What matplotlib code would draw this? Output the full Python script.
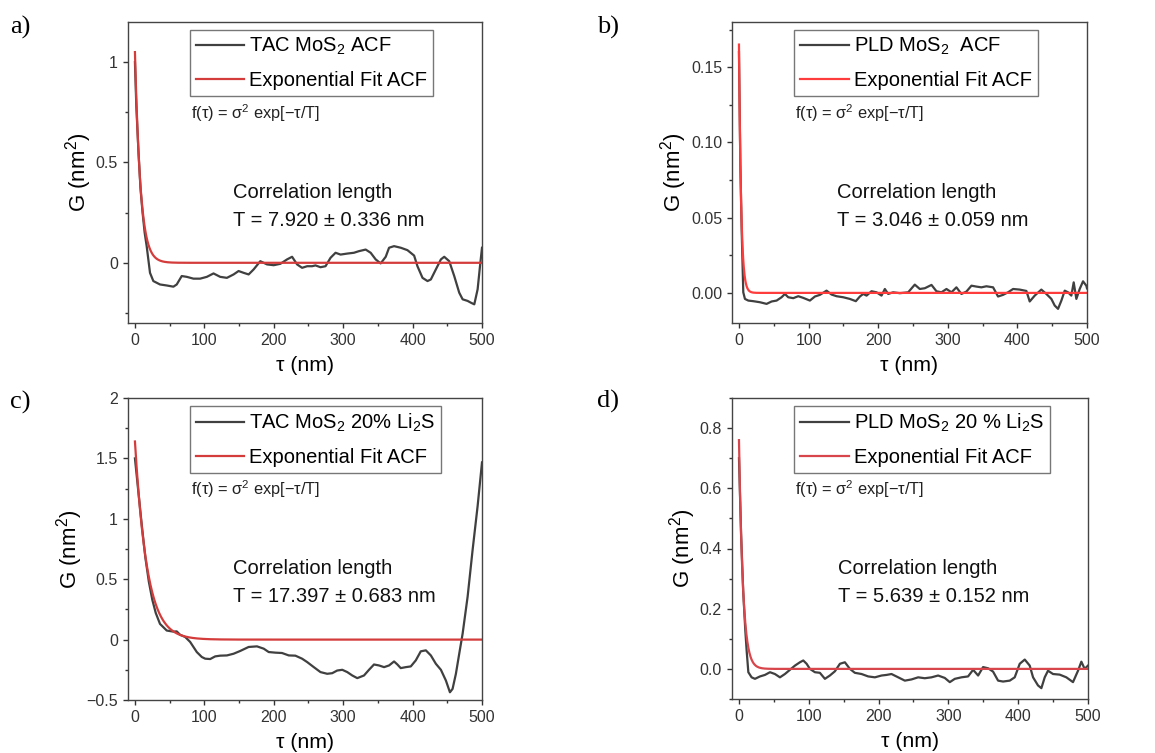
import numpy as np
import matplotlib
matplotlib.use("Agg")
import matplotlib.pyplot as plt
from matplotlib.ticker import MultipleLocator, FixedLocator, FixedFormatter

plt.rcParams["font.family"] = ["Liberation Sans", "DejaVu Sans"]
plt.rcParams["mathtext.fontset"] = "custom"
plt.rcParams["mathtext.rm"] = "Liberation Sans"
plt.rcParams["mathtext.it"] = "Liberation Sans:italic"
plt.rcParams["mathtext.bf"] = "Liberation Sans:bold"

# ---- data (tau in nm, G in nm^2) ----
tau_a = [0, 2, 5, 8, 11, 14, 16.9, 21.7, 26.5, 36.1, 45.8, 55.4, 60.2, 67.4, 74.7, 84.3, 93.9,
         103.6, 113.2, 122.8, 132.5, 142.1, 149.3, 156.6, 163.8, 171.0, 180.6, 190.3, 199.9,
         209.5, 219.2, 226.4, 233.6, 240.8, 248.1, 255.3, 260.1, 267.3, 274.6, 281.8, 289.0,
         296.2, 305.9, 315.5, 322.7, 332.4, 339.6, 346.8, 354.0, 361.3, 366.1, 373.3, 383.0,
         392.6, 402.2, 407.0, 414.3, 421.5, 426.3, 433.5, 440.8, 445.6, 452.8, 460.0, 467.2,
         472.1, 479.3, 484.1, 488.9, 493.7, 497.1, 500.0]
g_a = [1.0, 0.78, 0.56, 0.37, 0.25, 0.15, 0.083, -0.050, -0.091, -0.108, -0.113, -0.119, -0.108,
       -0.066, -0.070, -0.079, -0.079, -0.070, -0.053, -0.070, -0.075, -0.058, -0.041, -0.050,
       -0.058, -0.033, 0.008, -0.008, -0.012, -0.005, 0.017, 0.030, -0.008, -0.025, -0.017,
       -0.017, -0.013, -0.022, -0.017, 0.025, 0.050, 0.041, 0.046, 0.050, 0.058, 0.066, 0.050,
       0.017, -0.003, 0.030, 0.075, 0.083, 0.075, 0.063, 0.036, -0.017, -0.075, -0.091, -0.083,
       -0.033, 0.017, 0.030, 0.008, -0.066, -0.149, -0.182, -0.190, -0.199, -0.207, -0.132,
       -0.017, 0.075]

tau_b = [0, 2, 4, 6.2, 8.6, 13.4, 20.6, 30.1, 39.7, 46.9, 54.1, 61.2, 66.0, 70.8, 78.0, 85.2,
         92.3, 101.9, 109.1, 116.3, 125.8, 133.0, 140.2, 149.8, 159.3, 167.9, 173.7, 178.5,
         183.3, 190.4, 197.6, 204.8, 209.6, 214.4, 221.5, 231.1, 243.1, 252.6, 259.8, 267.0,
         276.6, 283.7, 290.9, 298.1, 305.3, 312.4, 319.6, 326.8, 334.0, 341.1, 348.3, 355.5,
         365.1, 372.2, 379.4, 386.6, 393.8, 403.3, 412.9, 417.7, 424.9, 434.4, 441.6, 448.8,
         453.6, 458.4, 463.2, 468.0, 472.7, 477.5, 480.9, 484.7, 489.5, 494.3, 499.0, 500.0]
g_b = [0.160, 0.085, 0.040, 0.0004, -0.0040, -0.0051, -0.0055, -0.0062, -0.0073, -0.0057,
       -0.0051, -0.0029, -0.0007, -0.0029, -0.0035, -0.0022, -0.0033, -0.0051, -0.0024,
       -0.0013, 0.0015, -0.0011, -0.0022, -0.0029, -0.0040, -0.0055, -0.0024, -0.0007,
       -0.0018, 0.0011, 0.0004, -0.0018, 0.0026, -0.0007, 0.0004, -0.0002, 0.0004, 0.0055,
       0.0026, 0.0031, 0.0053, 0.0011, 0.0004, 0.0026, 0.0004, 0.0037, -0.0007, 0.0009,
       0.0048, 0.0042, 0.0037, 0.0044, 0.0037, -0.0024, -0.0013, 0.0004, 0.0026, 0.0022,
       0.0013, -0.0057, -0.0018, 0.0022, -0.0007, -0.0040, -0.0084, -0.0106, -0.0051, 0.0015,
       0.0004, -0.0018, 0.0070, -0.0040, 0.0026, 0.0077, 0.0048, 0.0030]

tau_c = [0, 5, 10, 15, 20, 25, 30, 36.1, 45.8, 55.4, 60.2, 65.0, 72.3, 79.5, 89.1, 96.3, 101.2,
         108.4, 115.6, 122.8, 132.5, 142.1, 151.7, 163.8, 175.8, 185.5, 192.7, 202.3, 211.9,
         221.6, 231.2, 240.8, 248.1, 257.7, 267.3, 277.0, 284.2, 291.4, 298.7, 305.9, 313.1,
         320.3, 330.0, 337.2, 344.4, 351.6, 358.9, 366.1, 373.3, 378.1, 382.9, 390.2, 397.4,
         404.6, 411.8, 419.1, 426.3, 433.5, 440.8, 448.0, 453.8, 457.6, 462.4, 467.2, 472.1,
         479.3, 486.5, 493.7, 500.0]
g_c = [1.50, 1.22, 0.94, 0.68, 0.48, 0.33, 0.22, 0.13, 0.075, 0.066, 0.068, 0.040, 0.022,
       -0.019, -0.103, -0.144, -0.158, -0.161, -0.139, -0.133, -0.131, -0.117, -0.094, -0.061,
       -0.056, -0.075, -0.103, -0.108, -0.111, -0.131, -0.133, -0.158, -0.186, -0.228, -0.269,
       -0.283, -0.278, -0.256, -0.250, -0.269, -0.297, -0.319, -0.297, -0.250, -0.206, -0.214,
       -0.228, -0.214, -0.181, -0.206, -0.236, -0.228, -0.222, -0.172, -0.097, -0.089, -0.131,
       -0.200, -0.250, -0.339, -0.436, -0.408, -0.283, -0.117, 0.050, 0.356, 0.744, 1.106,
       1.467]

tau_d = [0, 3, 6, 9, 11, 13.4, 18.1, 22.9, 30.1, 37.2, 44.4, 51.5, 58.7, 65.8, 73.0, 80.2, 87.3,
         92.1, 96.9, 101.6, 108.8, 115.9, 123.1, 130.2, 137.4, 144.6, 151.7, 158.9, 166.0, 175.6,
         185.1, 194.7, 204.2, 211.4, 218.5, 228.1, 237.6, 247.1, 256.7, 266.2, 275.8, 285.3,
         294.8, 302.0, 309.2, 318.7, 328.2, 335.4, 342.6, 349.7, 356.9, 364.0, 371.2, 378.3,
         387.9, 395.0, 402.2, 409.4, 416.5, 421.3, 428.4, 433.2, 438.0, 442.7, 449.9, 459.4,
         469.0, 478.5, 485.7, 490.5, 495.2, 500.0]
g_d = [0.70, 0.45, 0.26, 0.13, 0.06, -0.011, -0.028, -0.033, -0.025, -0.020, -0.011, -0.017,
       -0.028, -0.017, -0.003, 0.011, 0.022, 0.028, 0.017, 0.000, -0.011, -0.013, -0.033,
       -0.022, -0.008, 0.017, 0.022, 0.000, -0.013, -0.017, -0.025, -0.028, -0.022, -0.020,
       -0.017, -0.028, -0.039, -0.035, -0.028, -0.031, -0.028, -0.022, -0.030, -0.044, -0.033,
       -0.028, -0.025, -0.003, -0.022, 0.006, 0.002, -0.009, -0.039, -0.042, -0.039, -0.028,
       0.017, 0.031, 0.011, -0.028, -0.055, -0.064, -0.028, -0.006, -0.017, -0.019, -0.028,
       -0.044, -0.006, 0.024, 0.000, 0.011]

# fit parameters: sigma^2 (peak of red curve) and correlation length T
sigma2 = [1.05, 0.165, 1.64, 0.76]
T_fit = [7.920, 3.046, 17.397, 5.639]
T_err = [0.336, 0.059, 0.683, 0.152]

labels = ["TAC MoS$_2$ ACF", "PLD MoS$_2$  ACF", "TAC MoS$_2$ 20% Li$_2$S", "PLD MoS$_2$ 20 % Li$_2$S"]
panel_tags = ["a)", "b)", "c)", "d)"]
ylims = [(-0.3, 1.2), (-0.02, 0.18), (-0.5, 2.0), (-0.1, 0.9)]
yticks = [[0, 0.5, 1], [0, 0.05, 0.10, 0.15], [-0.5, 0, 0.5, 1, 1.5, 2], [0, 0.2, 0.4, 0.6, 0.8]]
yticklabels = [["0", "0.5", "1"], ["0.00", "0.05", "0.10", "0.15"],
               ["\u22120.5", "0", "0.5", "1", "1.5", "2"], ["0.0", "0.2", "0.4", "0.6", "0.8"]]
yminor = [0.25, 0.025, 0.25, 0.1]
fit_colors = ["#d43c3c", "#ff3c3c", "#d43c3c", "#d8464b"]

taus = [tau_a, tau_b, tau_c, tau_d]
gs = [g_a, g_b, g_c, g_d]

W, H = 1155, 753
rects = [(128, 22, 354, 301), (732, 22, 355, 301), (128, 398, 354, 302), (732, 398, 356, 301)]
tag_pos = [(10, 27), (597, 27), (10, 402), (597, 401)]

fig = plt.figure(figsize=(W / 100, H / 100), dpi=100)

for i in range(4):
    x0, y0, w, h = rects[i]
    ax = fig.add_axes([x0 / W, 1 - (y0 + h) / H, w / W, h / H])

    ax.plot(taus[i], gs[i], color="#404040", lw=1.6, label=labels[i])
    tt = np.linspace(0, 500, 2001)
    ax.plot(tt, sigma2[i] * np.exp(-tt / T_fit[i]), color=fit_colors[i], lw=1.6,
            label="Exponential Fit ACF")

    ax.set_xlim(-10, 500)
    ax.set_ylim(*ylims[i])
    ax.xaxis.set_major_locator(FixedLocator([0, 100, 200, 300, 400, 500]))
    ax.xaxis.set_minor_locator(MultipleLocator(50))
    ax.yaxis.set_major_locator(FixedLocator(yticks[i]))
    ax.yaxis.set_major_formatter(FixedFormatter(yticklabels[i]))
    ax.yaxis.set_minor_locator(MultipleLocator(yminor[i]))
    ax.tick_params(which="both", direction="out", top=False, right=False,
                   labelsize=11.5, colors="#333333")
    ax.tick_params(which="major", length=3.6, width=1, pad=3.6)
    ax.tick_params(which="minor", length=2.2, width=1)
    for sp in ax.spines.values():
        sp.set_color("#444444")
        sp.set_linewidth(1.0)

    ax.set_xlabel("\u03c4 (nm)", fontsize=15.3, labelpad=6)
    ax.set_ylabel("G (nm$^2$)", fontsize=16, labelpad=1)

    leg = ax.legend(loc="upper left", bbox_to_anchor=(0.175, 0.975), borderaxespad=0,
                    fontsize=14.5, frameon=True, fancybox=False, handlelength=2.4,
                    handletextpad=0.25, labelspacing=0.7, borderpad=0.3)
    leg.get_frame().set_edgecolor("#555555")
    leg.get_frame().set_linewidth(1.0)

    ax.text(0.178, 0.698, "f(\u03c4) = \u03c3$^2$ exp[\u2212\u03c4/T]", transform=ax.transAxes,
            fontsize=11.8, va="center", ha="left", color="#222222")
    ax.text(0.297, 0.435, "Correlation length", transform=ax.transAxes,
            fontsize=14.5, va="center", ha="left", color="#111111")
    ax.text(0.297, 0.342, f"T = {T_fit[i]:.3f} \u00b1 {T_err[i]:.3f} nm", transform=ax.transAxes,
            fontsize=14.5, va="center", ha="left", color="#111111")

    tx, ty = tag_pos[i]
    fig.text(tx / W, 1 - ty / H, panel_tags[i], fontsize=19, family="Liberation Serif",
             va="center", ha="left")

fig.savefig("out.png", dpi=100)
